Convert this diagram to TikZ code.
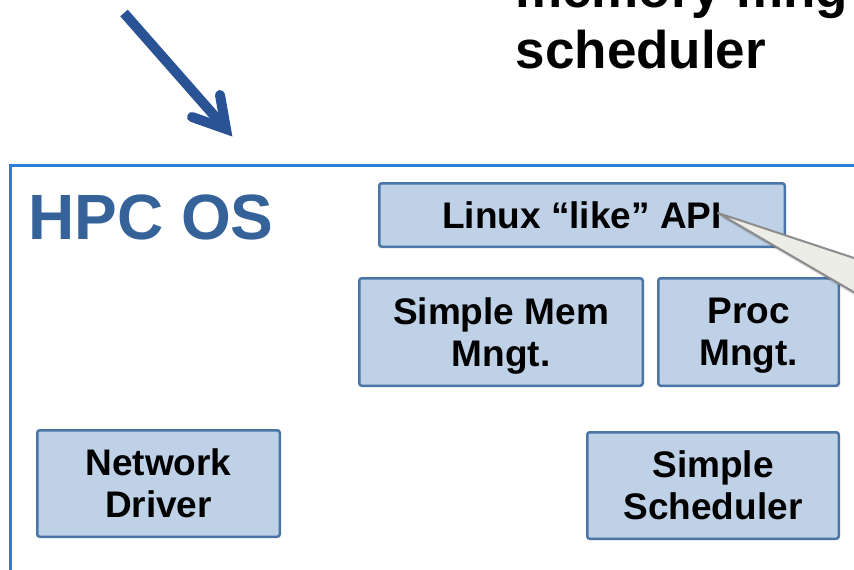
\documentclass[tikz,border=0pt]{standalone}
\usepackage{fontspec}
\setmainfont{Liberation Sans}

\definecolor{boxfill}{HTML}{BFD1E6}
\definecolor{boxline}{HTML}{4A75A6}
\definecolor{framecol}{HTML}{2E7FD4}
\definecolor{hpctext}{HTML}{36629A}
\definecolor{arrowcol}{HTML}{2A5396}
\definecolor{calloutfill}{HTML}{EDEDE7}
\definecolor{calloutline}{HTML}{8C8C8C}

\begin{document}
\begin{tikzpicture}[x=1pt,y=-1pt,
  module/.style={draw=boxline, fill=boxfill, line width=2.5pt, rounded corners=2.5pt,
    align=center, inner sep=0pt, text depth=0pt,
    font=\bfseries\fontsize{37}{42}\selectfont},
  heading/.style={anchor=base west, inner sep=0pt, font=\bfseries\fontsize{53}{61}\selectfont},
  pointer/.style={draw=arrowcol, line width=10pt}
]
\useasboundingbox (0,0) rectangle (854,570);
\clip (0,0) rectangle (854,570);

% slide heading, partly outside the visible area
\node[heading] (headone) at (515,7) {memory mng};
\node[heading] (headtwo) at (515.5,68) {scheduler};

% outer frame of the OS
\draw[draw=framecol, line width=3pt] (10,165) rectangle (880,600);
\node[anchor=base west, inner sep=0pt, text=hpctext,
      font=\bfseries\fontsize{64}{64}\selectfont] (hpc) at (28,239) {HPC OS};

% components
\node[module, minimum width=405.5pt, minimum height=63.5pt] (api) at (582,215) {Linux “like” API};
\node[module, minimum width=283.5pt, minimum height=107.5pt] (mem) at (501,332) {Simple Mem\\Mngt.};
\node[module, minimum width=180.5pt, minimum height=107.5pt] (proc) at (748.5,332) {Proc\\Mngt.};
\node[module, minimum width=242.5pt, minimum height=106.5pt] (net) at (158.5,483.5) {Network\\Driver};
\node[module, minimum width=251.5pt, minimum height=106.5pt] (sched) at (713,485.5) {Simple\\Scheduler};

% callout pointer towards the API box
\coordinate (calloutpoint) at (718,213);
\fill[black, opacity=0.15] ([shift={(3,4)}]calloutpoint) -- (883,271) -- (883,312) -- cycle;
\filldraw[fill=calloutfill, draw=calloutline, line width=2pt, line join=round]
  (calloutpoint) -- (880,266.6) -- (880,307.4) -- cycle;

% big arrow pointing at the OS
\coordinate (arrowstart) at (124,13);
\coordinate (arrowtip) at (226,129);
\coordinate (barbleft) at (192,117);
\coordinate (barbright) at (220,95);
\draw[pointer] (arrowstart) -- (arrowtip);
\draw[pointer, line cap=round, line join=miter, miter limit=10]
  (barbleft) -- (arrowtip) -- (barbright);
\end{tikzpicture}
\end{document}
